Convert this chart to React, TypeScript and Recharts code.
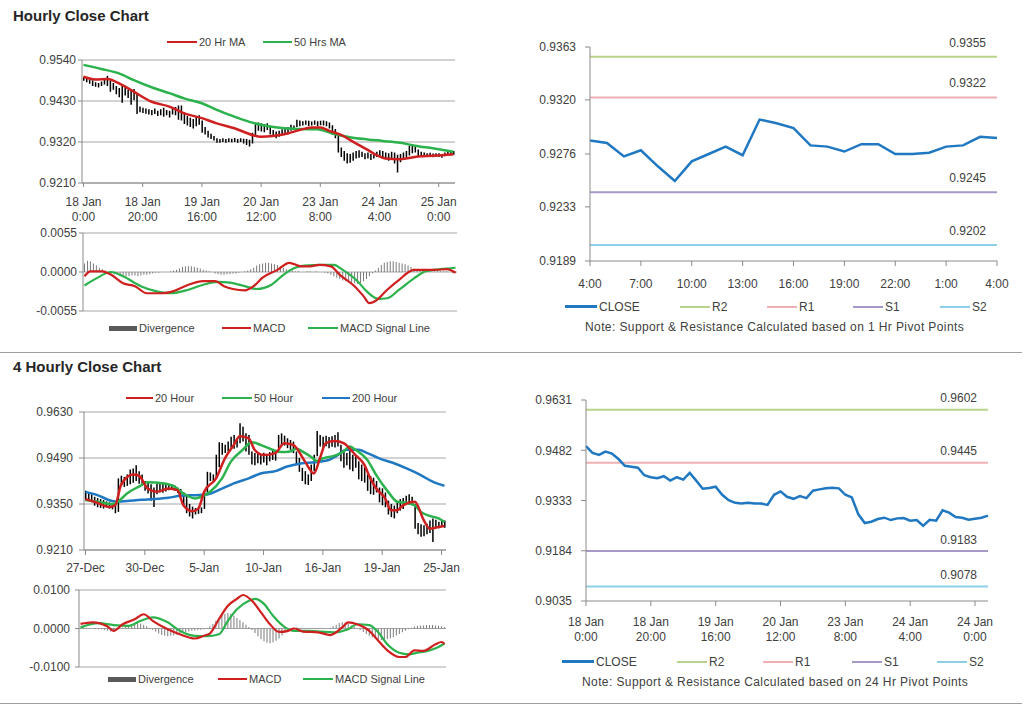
import React from 'react';
import { ComposedChart, LineChart, Line, Bar, XAxis, YAxis, CartesianGrid, ReferenceLine } from 'recharts';

// ---- Hourly close chart (18 Jan 0:00 onward, one bar per hour) ----
const hourlyHigh = [
  0.9495, 0.9492, 0.9488, 0.9486, 0.948, 0.9478, 0.9482, 0.949, 0.9498, 0.9486,
  0.9478, 0.947, 0.9465, 0.947, 0.9468, 0.946, 0.9458, 0.9462, 0.945, 0.9415,
  0.9412, 0.941, 0.9408, 0.9406, 0.941, 0.9404, 0.9408, 0.9412, 0.9406, 0.9404,
  0.941, 0.9414, 0.9418, 0.9418, 0.94, 0.939, 0.9385, 0.9382, 0.9388, 0.9392,
  0.9378, 0.936, 0.935, 0.9342, 0.9336, 0.933, 0.9328, 0.933, 0.9328, 0.933,
  0.9329, 0.9331, 0.9328, 0.933, 0.9329, 0.9328, 0.9326, 0.9345, 0.9368, 0.9372,
  0.937, 0.9368, 0.937, 0.936, 0.9352, 0.9348, 0.935, 0.9354, 0.9356, 0.936,
  0.9366, 0.9364, 0.938, 0.9378, 0.9376, 0.9378, 0.9377, 0.9375, 0.9378, 0.9376,
  0.9377, 0.9378, 0.9376, 0.9372, 0.9365, 0.9355, 0.934, 0.9305, 0.9296, 0.929,
  0.9288, 0.9292, 0.9296, 0.9298, 0.9294, 0.929, 0.9292, 0.9288, 0.929, 0.9294,
  0.9298, 0.9296, 0.9292, 0.929, 0.9294, 0.9292, 0.9286, 0.9288, 0.9292, 0.9296,
  0.931, 0.9314, 0.931, 0.93, 0.9294, 0.9292, 0.929, 0.9291, 0.9289, 0.929,
  0.929, 0.9288, 0.9292, 0.9296, 0.9294, 0.9296,
];
const hourlyLow = [
  0.9484, 0.948, 0.9476, 0.947, 0.9468, 0.9466, 0.947, 0.9474, 0.947, 0.9455,
  0.946, 0.9448, 0.944, 0.9425, 0.9445, 0.9438, 0.942, 0.9432, 0.9395, 0.94,
  0.9398, 0.9396, 0.9394, 0.9392, 0.9395, 0.939, 0.9392, 0.9388, 0.9392, 0.9386,
  0.9394, 0.9392, 0.938, 0.9378, 0.9368, 0.9364, 0.936, 0.9356, 0.9362, 0.9366,
  0.9345, 0.934, 0.9332, 0.9328, 0.9324, 0.9318, 0.9318, 0.932, 0.9318, 0.932,
  0.9319, 0.932, 0.9318, 0.932, 0.9316, 0.9312, 0.9308, 0.9316, 0.9334, 0.935,
  0.9348, 0.9346, 0.9352, 0.934, 0.9336, 0.933, 0.9334, 0.9338, 0.934, 0.9344,
  0.935, 0.9352, 0.936, 0.9362, 0.9364, 0.9366, 0.9363, 0.9364, 0.9366, 0.9362,
  0.9365, 0.9364, 0.9362, 0.9356, 0.934, 0.933, 0.9292, 0.928, 0.927, 0.9262,
  0.9264, 0.927, 0.9276, 0.9278, 0.928, 0.9274, 0.9276, 0.9272, 0.9276, 0.928,
  0.9282, 0.928, 0.9274, 0.927, 0.9276, 0.9262, 0.9238, 0.9266, 0.9272, 0.9278,
  0.9284, 0.929, 0.9292, 0.9282, 0.9284, 0.9282, 0.928, 0.9281, 0.9279, 0.928,
  0.928, 0.9278, 0.9282, 0.9284, 0.9284, 0.9286,
];
// [hour index, value]
const hrMa20: [number, number][] = [
  [0, 0.9495], [4, 0.9488], [8, 0.9489], [13, 0.9473], [17, 0.9455], [23, 0.9428], [29, 0.9415],
  [34, 0.9397], [40, 0.9384], [45, 0.937], [51, 0.9357], [57, 0.9339], [60, 0.9334], [64, 0.9336],
  [69, 0.9343], [73, 0.9352], [77, 0.9359], [80, 0.9359], [83, 0.935], [87, 0.9339], [91, 0.9321],
  [96, 0.9299], [99, 0.9285], [102, 0.9276], [107, 0.9274], [113, 0.9281], [118, 0.9283], [125, 0.9287],
];
const hrMa50: [number, number][] = [
  [0, 0.9527], [6, 0.9516], [12, 0.9504], [17, 0.9486], [23, 0.9467], [29, 0.9451], [34, 0.9437],
  [40, 0.9424], [45, 0.9406], [51, 0.9388], [57, 0.9372], [62, 0.9363], [68, 0.9357], [73, 0.9355],
  [79, 0.9354], [84, 0.9343], [90, 0.9333], [96, 0.9327], [101, 0.9323], [107, 0.9318], [112, 0.931],
  [118, 0.9303], [125, 0.9294],
];
const hrTickIdx = [0, 20, 40, 60, 80, 100, 120];
const hrTickLabels = [
  ['18 Jan', '0:00'], ['18 Jan', '20:00'], ['19 Jan', '16:00'], ['20 Jan', '12:00'],
  ['23 Jan', '8:00'], ['24 Jan', '4:00'], ['25 Jan', '0:00'],
];
const hrDivergence = [
  0.0012, 0.0016, 0.0015, 0.0012, 0.0009, 0.0006, 0.0004, 0.0002, 0, -0.0002,
  -0.0003, -0.0004, -0.0005, -0.0005, -0.0006, -0.0006, -0.0005, -0.0005, -0.0006, -0.0005,
  -0.0004, -0.0004, -0.0003, -0.0002, -0.0001, -0.0001, 0, 0, 0, 0.0001,
  0.0002, 0.0003, 0.0005, 0.0007, 0.0008, 0.0008, 0.0008, 0.0007, 0.0006, 0.0005,
  0.0003, 0.0002, 0.0001, 0, -0.0002, -0.0003, -0.0004, -0.0004, -0.0003, -0.0003,
  -0.0002, -0.0002, -0.0001, 0, 0.0001, 0.0002, 0.0004, 0.0006, 0.0009, 0.0011,
  0.0012, 0.0013, 0.0013, 0.0012, 0.0011, 0.001, 0.0008, 0.0006, 0.0004, 0.0003,
  0.0002, 0.0001, 0.0001, 0, 0, 0.0001, 0.0001, 0, 0.0001, 0,
  0, -0.0001, -0.0002, -0.0004, -0.0006, -0.0008, -0.001, -0.0012, -0.0013, -0.0014,
  -0.0015, -0.0016, -0.0017, -0.0016, -0.0013, -0.001, -0.0006, -0.0002, 0.0002, 0.0006,
  0.001, 0.0013, 0.0014, 0.0015, 0.0015, 0.0014, 0.0013, 0.0012, 0.0011, 0.0009,
  0.0007, 0.0005, 0.0004, 0.0003, 0.0002, 0.0002, 0.0001, 0.0001, 0.0001, 0.0001,
  0.0001, 0.0001, 0.0001, 0, -0.0001, -0.0001,
];
const hrMacd: [number, number][] = [
  [0, -0.0006], [2, 0.0001], [6, 0.0001], [9, -0.0004], [13, -0.0016], [17, -0.002], [21, -0.003],
  [26, -0.003], [30, -0.0027], [35, -0.0018], [40, -0.0013], [44, -0.0013], [47, -0.002], [50, -0.0024],
  [54, -0.0026], [57, -0.002], [60, -0.0008], [65, 0.0003], [69, 0.0013], [73, 0.0008], [76, 0.0008],
  [79, 0.001], [83, 0.0008], [86, -0.0004], [91, -0.002], [94, -0.0034], [96, -0.0044], [98, -0.0041],
  [102, -0.0025], [106, -0.0011], [111, 0.0003], [114, 0.0003], [118, 0.0003], [122, 0.0004], [125, -0.0001],
];
const hrSignal: [number, number][] = [
  [0, -0.0019], [4, -0.0009], [9, 0], [13, -0.0006], [19, -0.002], [24, -0.0027], [29, -0.003],
  [35, -0.0025], [40, -0.0018], [45, -0.0014], [49, -0.0015], [54, -0.002], [58, -0.0024], [63, -0.0018],
  [67, -0.0004], [71, 0.0006], [74, 0.0009], [80, 0.001], [84, 0.001], [87, 0.0003], [92, -0.0013],
  [95, -0.0027], [99, -0.0038], [102, -0.0037], [106, -0.0025], [111, -0.0009], [115, 0.0001],
  [120, 0.0004], [125, 0.0006],
];

// ---- Hourly close vs 1 Hr pivots ----
const hourLabels = [
  '4:00', '5:00', '6:00', '7:00', '8:00', '9:00', '10:00', '11:00', '12:00', '13:00', '14:00', '15:00',
  '16:00', '17:00', '18:00', '19:00', '20:00', '21:00', '22:00', '23:00', '0:00', '1:00', '2:00', '3:00', '4:00',
];
const close1h = [
  0.9287, 0.9285, 0.9274, 0.9279, 0.9266, 0.9254, 0.927, 0.9276, 0.9282, 0.9275, 0.9304, 0.9301,
  0.9297, 0.9283, 0.9282, 0.9278, 0.9284, 0.9284, 0.9276, 0.9276, 0.9277, 0.9282, 0.9283, 0.929, 0.9289,
];
const pivotNames = ['R2', 'R1', 'S1', 'S2'];
const pivot1h = [0.9355, 0.9322, 0.9245, 0.9202];

// ---- 4 hourly close chart ----
const h4High = [
  0.939, 0.9386, 0.938, 0.9372, 0.9368, 0.9365, 0.9362, 0.9358, 0.9355, 0.9352,
  0.935, 0.9428, 0.9436, 0.9432, 0.944, 0.9455, 0.9458, 0.9468, 0.945, 0.944,
  0.942, 0.9418, 0.941, 0.94, 0.9412, 0.9415, 0.9412, 0.941, 0.9408, 0.941,
  0.9406, 0.94, 0.9396, 0.9386, 0.9375, 0.935, 0.9342, 0.9338, 0.9336, 0.934,
  0.939, 0.9448, 0.9446, 0.944, 0.95, 0.9538, 0.9536, 0.953, 0.954, 0.9555,
  0.956, 0.9548, 0.9596, 0.9585, 0.9565, 0.956, 0.951, 0.9505, 0.9508, 0.9502,
  0.9506, 0.95, 0.9508, 0.9512, 0.9505, 0.956, 0.9565, 0.9558, 0.955, 0.9545,
  0.954, 0.951, 0.949, 0.946, 0.945, 0.944, 0.947, 0.95, 0.9572, 0.956,
  0.9555, 0.9558, 0.9554, 0.9556, 0.956, 0.9568, 0.953, 0.9515, 0.9505, 0.9512,
  0.95, 0.9495, 0.948, 0.947, 0.9462, 0.944, 0.9435, 0.943, 0.942, 0.94,
  0.9398, 0.9385, 0.936, 0.935, 0.9345, 0.9355, 0.9365, 0.9368, 0.9375, 0.938,
  0.9372, 0.935, 0.9292, 0.9288, 0.9285, 0.929, 0.93, 0.9306, 0.9302, 0.9296,
  0.9298, 0.93,
];
const h4Low = [
  0.936, 0.9362, 0.9355, 0.9345, 0.934, 0.9338, 0.9336, 0.934, 0.9336, 0.9334,
  0.9322, 0.9326, 0.9405, 0.9402, 0.9405, 0.941, 0.9415, 0.942, 0.9412, 0.9405,
  0.939, 0.9382, 0.936, 0.9341, 0.938, 0.9385, 0.9384, 0.9388, 0.9392, 0.9394,
  0.939, 0.9384, 0.9378, 0.9345, 0.9322, 0.9312, 0.9306, 0.9318, 0.932, 0.9322,
  0.9335, 0.9377, 0.942, 0.9418, 0.943, 0.9462, 0.95, 0.9505, 0.951, 0.952,
  0.9518, 0.9522, 0.9535, 0.954, 0.951, 0.95, 0.947, 0.9468, 0.9474, 0.947,
  0.9476, 0.9468, 0.948, 0.9484, 0.9482, 0.952, 0.953, 0.9528, 0.952, 0.9515,
  0.9505, 0.947, 0.9448, 0.942, 0.941, 0.9408, 0.942, 0.945, 0.9495, 0.9525,
  0.9522, 0.9526, 0.952, 0.9524, 0.9522, 0.9525, 0.948, 0.946, 0.9468, 0.9455,
  0.945, 0.946, 0.9425, 0.942, 0.9415, 0.939, 0.938, 0.9378, 0.9385, 0.9355,
  0.9346, 0.934, 0.9318, 0.931, 0.9306, 0.9322, 0.933, 0.9335, 0.935, 0.9348,
  0.9346, 0.9275, 0.9258, 0.925, 0.9252, 0.9258, 0.9262, 0.9234, 0.9278, 0.9276,
  0.928, 0.9278,
];
const h4Ma20: [number, number][] = [
  [0, 0.9365], [3, 0.9357], [8, 0.9341], [10, 0.9346], [12, 0.9408], [16, 0.944], [18, 0.9436],
  [21, 0.9397], [24, 0.9387], [28, 0.9397], [31, 0.9392], [33, 0.9346], [36, 0.9328], [38, 0.9336],
  [40, 0.9387], [44, 0.9428], [47, 0.9489], [50, 0.953], [52, 0.9556], [55, 0.955], [57, 0.9515],
  [60, 0.9499], [64, 0.9505], [67, 0.9535], [70, 0.953], [74, 0.9479], [77, 0.9443], [79, 0.9489],
  [81, 0.9535], [84, 0.9542], [87, 0.9535], [91, 0.9499], [94, 0.9469], [96, 0.9428], [98, 0.9397],
  [101, 0.9367], [103, 0.9331], [105, 0.9331], [107, 0.9346], [111, 0.9357], [114, 0.9301],
  [116, 0.9275], [119, 0.928], [121, 0.9283],
];
const h4Ma50: [number, number][] = [
  [0, 0.9362], [4, 0.9357], [9, 0.935], [11, 0.9357], [14, 0.9382], [18, 0.9403], [21, 0.9416],
  [26, 0.9413], [30, 0.9403], [33, 0.9382], [37, 0.9367], [39, 0.9372], [42, 0.9387], [46, 0.9428],
  [49, 0.9479], [53, 0.9515], [56, 0.9538], [59, 0.953], [63, 0.9515], [66, 0.9508], [69, 0.951],
  [71, 0.9518], [74, 0.9505], [76, 0.9494], [78, 0.9481], [80, 0.9489], [84, 0.9497], [87, 0.951],
  [89, 0.9525], [91, 0.9515], [95, 0.9484], [98, 0.9438], [102, 0.9387], [105, 0.9357], [109, 0.9352],
  [111, 0.9346], [113, 0.9326], [116, 0.9314], [119, 0.9306], [121, 0.9295],
];
const h4Ma200: [number, number][] = [
  [0, 0.9387], [4, 0.9377], [9, 0.9359], [11, 0.9357], [14, 0.9359], [19, 0.9363], [23, 0.9365],
  [28, 0.9369], [32, 0.9375], [37, 0.9377], [41, 0.9379], [46, 0.9397], [50, 0.9413], [55, 0.9428],
  [59, 0.9443], [64, 0.945], [68, 0.9464], [73, 0.9474], [77, 0.9477], [82, 0.9484], [85, 0.9499],
  [88, 0.9515], [92, 0.9515], [95, 0.9505], [99, 0.9489], [104, 0.9474], [108, 0.9459], [113, 0.9438],
  [117, 0.9418], [121, 0.9405],
];
const h4TickIdx = [0, 20, 40, 60, 80, 100, 120];
const h4TickLabels = [['27-Dec'], ['30-Dec'], ['5-Jan'], ['10-Jan'], ['16-Jan'], ['19-Jan'], ['25-Jan']];
const h4Divergence = [
  0.0002, 0.0003, 0.0002, 0.0001, 0, -0.0001, -0.0002, -0.0002, -0.0004, -0.0006,
  -0.0008, -0.0007, -0.0004, -0.0001, 0.0002, 0.0005, 0.0008, 0.0011, 0.0013, 0.0014,
  0.0013, 0.001, 0.0006, 0.0002, -0.0003, -0.0008, -0.0013, -0.0017, -0.0019, -0.002,
  -0.0019, -0.0018, -0.0016, -0.0014, -0.0011, -0.0009, -0.0008, -0.0006, -0.0005, -0.0004,
  -0.0003, -0.0002, 0.0001, 0.0006, 0.0012, 0.002, 0.0028, 0.0034, 0.0038, 0.004,
  0.0038, 0.0033, 0.0027, 0.0022, 0.0016, 0.001, 0.0004, -0.0004, -0.0012, -0.002,
  -0.0028, -0.0033, -0.0037, -0.0038, -0.0036, -0.0032, -0.0026, -0.0018, -0.001, -0.0004,
  0, 0.0002, 0.0003, 0.0002, 0.0001, 0, -0.0001, -0.0001, -0.0002, -0.0002,
  -0.0001, -0.0001, 0, 0.0002, 0.0006, 0.001, 0.0014, 0.0016, 0.0015, 0.0012,
  0.0008, 0.0004, 0, -0.0004, -0.0009, -0.0014, -0.0019, -0.0023, -0.0026, -0.0028,
  -0.003, -0.0029, -0.0027, -0.0025, -0.0022, -0.0018, -0.0014, -0.001, -0.0006, -0.0002,
  0.0002, 0.0005, 0.0007, 0.0008, 0.0008, 0.0009, 0.0009, 0.0009, 0.0008, 0.0007,
  0.0005, 0.0003,
];
const h4Macd: [number, number][] = [
  [0, 0.0012], [4, 0.0016], [9, 0.0005], [11, -0.0006], [14, 0.0011], [18, 0.0024], [21, 0.0037],
  [24, 0.002], [29, -0.0002], [33, -0.0015], [38, -0.0026], [41, -0.0019], [43, -0.0013], [46, 0.0024],
  [49, 0.0059], [52, 0.0077], [54, 0.0087], [57, 0.0072], [60, 0.0042], [63, 0.0011], [66, -0.0009],
  [69, -0.0006], [71, 0], [74, -0.0008], [79, -0.001], [83, -0.0017], [87, 0.0003], [89, 0.0016],
  [92, 0.0011], [96, -0.0006], [99, -0.0032], [102, -0.0057], [106, -0.0074], [108, -0.0074],
  [111, -0.0057], [114, -0.0058], [118, -0.0041], [120, -0.0035], [121, -0.004],
];
const h4Signal: [number, number][] = [
  [0, 0.0003], [6, 0.0014], [11, 0.0009], [16, 0.0007], [20, 0.002], [24, 0.0029], [29, 0.0016],
  [33, -0.0006], [38, -0.0019], [42, -0.002], [46, -0.0015], [49, 0.002], [52, 0.005], [56, 0.0072],
  [58, 0.0077], [61, 0.0064], [64, 0.0033], [68, 0.0003], [71, -0.0006], [76, -0.0006], [80, -0.0008],
  [84, -0.001], [89, -0.0002], [92, 0.0011], [96, 0.0009], [99, -0.001], [102, -0.0041], [106, -0.0063],
  [109, -0.0067], [112, -0.0063], [116, -0.0057], [119, -0.0048], [121, -0.0039],
];

// ---- Hourly close vs 24 Hr pivots (one point per 2 hours) ----
const close24h = [
  0.9494, 0.9474, 0.9468, 0.9478, 0.9472, 0.9456, 0.9436, 0.9433, 0.943, 0.9408,
  0.9402, 0.9399, 0.9405, 0.9392, 0.9402, 0.9395, 0.9415, 0.9392, 0.9368, 0.937,
  0.9374, 0.935, 0.9334, 0.9326, 0.9324, 0.9326, 0.9324, 0.9324, 0.932, 0.935,
  0.936, 0.9344, 0.9338, 0.9346, 0.934, 0.9362, 0.9366, 0.9369, 0.9371, 0.9369,
  0.935, 0.9342, 0.9292, 0.9266, 0.927, 0.9278, 0.9282, 0.9275, 0.928, 0.9281,
  0.9273, 0.9275, 0.9258, 0.9276, 0.9273, 0.9304, 0.9297, 0.9284, 0.9282, 0.9276,
  0.9279, 0.9282, 0.9288,
];
const c24TickIdx = [0, 10, 20, 30, 40, 50, 60];
const c24TickLabels = [
  ['18 Jan', '0:00'], ['18 Jan', '20:00'], ['19 Jan', '16:00'], ['20 Jan', '12:00'],
  ['23 Jan', '8:00'], ['24 Jan', '4:00'], ['24 Jan', '0:00'],
];
const pivot24h = [0.9602, 0.9445, 0.9183, 0.9078];

// ---- styling ----
const FONT = 'Arial, "Liberation Sans", sans-serif';
const TXT = '#404040';
const AXIS = '#8a8a8a';
const GRID = '#a6a6a6';
const RED = '#cf1f1f';
const GREEN = '#2bb24c';
const BLUE = '#1f78c1';
const DIV_GRAY = '#7a7a7a';
const PIVOT_COLORS = ['#b9d38a', '#eeb0b2', '#a898c8', '#8ccfe6'];

type Row = { i: number; [k: string]: any };

function addSparse(rows: Row[], key: string, pts: [number, number][]) {
  pts.forEach(([i, v]) => {
    rows[i][key] = v;
  });
}

const hrRows: Row[] = hourlyHigh.map((h, i) => ({ i, range: [hourlyLow[i], h] }));
addSparse(hrRows, 'ma20', hrMa20);
addSparse(hrRows, 'ma50', hrMa50);

const hrMacdRows: Row[] = hrDivergence.map((d, i) => ({ i, div: d }));
addSparse(hrMacdRows, 'macd', hrMacd);
addSparse(hrMacdRows, 'signal', hrSignal);

const h4Rows: Row[] = h4High.map((h, i) => ({ i, range: [h4Low[i], h] }));
addSparse(h4Rows, 'ma20', h4Ma20);
addSparse(h4Rows, 'ma50', h4Ma50);
addSparse(h4Rows, 'ma200', h4Ma200);

const h4MacdRows: Row[] = h4Divergence.map((d, i) => ({ i, div: d }));
addSparse(h4MacdRows, 'macd', h4Macd);
addSparse(h4MacdRows, 'signal', h4Signal);

const c1Rows: Row[] = close1h.map((v, i) => ({ i, close: v }));
const c24Rows: Row[] = close24h.map((v, i) => ({ i, close: v }));

const fmt4 = (v: number) => v.toFixed(4);
const yTick = { fontSize: 12, fill: TXT, fontFamily: FONT };

function lookupTick(idx: number[], labels: string[][], dys: number[]) {
  return (props: any) => {
    const { x, y, payload } = props;
    const k = idx.indexOf(payload.value);
    if (k < 0) return <g />;
    return (
      <text x={x} y={y} textAnchor="middle" fill={TXT} fontSize={12} fontFamily={FONT}>
        {labels[k].map((s, j) => (
          <tspan key={j} x={x} dy={dys[j]}>
            {s}
          </tspan>
        ))}
      </text>
    );
  };
}

const PivotLabel = (props: any) => {
  const { viewBox, text, lift } = props;
  if (!viewBox) return null;
  return (
    <text
      x={viewBox.x + viewBox.width - 11}
      y={viewBox.y - lift}
      dy="0.35em"
      textAnchor="end"
      fontSize={12}
      fill={TXT}
      fontFamily={FONT}
    >
      {text}
    </text>
  );
};

type LegendItem = { left: number; width: number; thick: number; color: string; label: string };

const LegendRow = ({ top, items, size }: { top: number; items: LegendItem[]; size: number }) => (
  <>
    {items.map((it) => (
      <div
        key={it.label}
        style={{
          position: 'absolute',
          left: it.left,
          top: top - 8,
          height: 16,
          display: 'flex',
          alignItems: 'center',
          fontSize: size,
          color: TXT,
          whiteSpace: 'nowrap',
        }}
      >
        <span style={{ display: 'inline-block', width: it.width, height: it.thick, background: it.color, marginRight: 2 }} />
        {it.label}
      </div>
    ))}
  </>
);

const Title = ({ top, text }: { top: number; text: string }) => (
  <div style={{ position: 'absolute', left: 13, top, fontSize: 15, fontWeight: 'bold', color: '#262626' }}>{text}</div>
);

const Divider = ({ top }: { top: number }) => (
  <div style={{ position: 'absolute', left: 0, top, width: 1022, height: 1, background: '#a0a0a0' }} />
);

const Note = ({ left, top, text }: { left: number; top: number; text: string }) => (
  <div style={{ position: 'absolute', left, top: top - 8, fontSize: 12, color: TXT, letterSpacing: 0.4, whiteSpace: 'nowrap' }}>
    {text}
  </div>
);

const macdLegend = (left: number[]): LegendItem[] => [
  { left: left[0], width: 28, thick: 5, color: '#5a5a5a', label: 'Divergence' },
  { left: left[1], width: 29, thick: 2, color: RED, label: 'MACD' },
  { left: left[2], width: 30, thick: 2, color: GREEN, label: 'MACD Signal Line' },
];

const pivotLegend = (left: number[]): LegendItem[] => [
  { left: left[0], width: 32, thick: 2.5, color: BLUE, label: 'CLOSE' },
  ...pivotNames.map((n, k) => ({ left: left[k + 1], width: 30, thick: 2, color: PIVOT_COLORS[k], label: n })),
];

export default function App() {
  return (
    <div
      style={{
        position: 'absolute',
        left: 0,
        top: 0,
        width: 1024,
        height: 706,
        background: '#fff',
        fontFamily: FONT,
        overflow: 'hidden',
      }}
    >
      <Title top={7} text="Hourly Close Chart" />
      <Title top={358} text="4 Hourly Close Chart" />
      <Divider top={352} />
      <Divider top={703} />

      {/* Hourly price with moving averages */}
      <LegendRow
        top={42}
        size={11}
        items={[
          { left: 167, width: 30, thick: 2, color: RED, label: '20 Hr MA' },
          { left: 263, width: 29, thick: 2, color: GREEN, label: '50 Hrs MA' },
        ]}
      />
      <div style={{ position: 'absolute', left: 0, top: 50 }}>
        <ComposedChart width={460} height={175} data={hrRows} margin={{ top: 10, right: 5, bottom: 0, left: 0 }}>
          <CartesianGrid vertical={false} stroke={GRID} />
          <XAxis
            dataKey="i"
            height={42}
            interval={19}
            tickSize={4}
            tickMargin={0}
            axisLine={{ stroke: AXIS }}
            tickLine={{ stroke: AXIS }}
            tick={lookupTick(hrTickIdx, hrTickLabels, [19, 15])}
          />
          <YAxis
            width={82}
            domain={[0.921, 0.954]}
            ticks={[0.921, 0.932, 0.943, 0.954]}
            interval={0}
            tickFormatter={fmt4}
            tickSize={4}
            tickMargin={2}
            axisLine={{ stroke: AXIS }}
            tickLine={{ stroke: AXIS }}
            tick={yTick}
            allowDataOverflow
          />
          <Bar dataKey="range" barSize={1.5} fill="#000" isAnimationActive={false} />
          <Line dataKey="ma50" type="monotone" stroke={GREEN} strokeWidth={2.5} dot={false} connectNulls isAnimationActive={false} />
          <Line dataKey="ma20" type="monotone" stroke={RED} strokeWidth={2.5} dot={false} connectNulls isAnimationActive={false} />
        </ComposedChart>
      </div>

      {/* Hourly MACD */}
      <div style={{ position: 'absolute', left: 0, top: 223 }}>
        <ComposedChart width={460} height={98} data={hrMacdRows} margin={{ top: 10, right: 3, bottom: 10, left: 0 }}>
          <CartesianGrid vertical={false} stroke={GRID} />
          <XAxis dataKey="i" hide />
          <YAxis
            width={83}
            domain={[-0.0055, 0.0055]}
            ticks={[-0.0055, 0, 0.0055]}
            interval={0}
            tickFormatter={fmt4}
            tickSize={4}
            tickMargin={2}
            axisLine={{ stroke: AXIS }}
            tickLine={{ stroke: AXIS }}
            tick={yTick}
            allowDataOverflow
          />
          <Bar dataKey="div" barSize={1} fill={DIV_GRAY} isAnimationActive={false} />
          <Line dataKey="signal" type="monotone" stroke={GREEN} strokeWidth={2.2} dot={false} connectNulls isAnimationActive={false} />
          <Line dataKey="macd" type="monotone" stroke={RED} strokeWidth={2.2} dot={false} connectNulls isAnimationActive={false} />
        </ComposedChart>
      </div>
      <LegendRow top={328} size={11} items={macdLegend([109, 222, 308])} />

      {/* Hourly close vs 1 Hr pivots */}
      <div style={{ position: 'absolute', left: 500, top: 37 }}>
        <LineChart width={524} height={254} data={c1Rows} margin={{ top: 10, right: 27, bottom: 0, left: 0 }}>
          <XAxis
            dataKey="i"
            height={30}
            interval={2}
            tickSize={5}
            tickMargin={0}
            axisLine={{ stroke: AXIS }}
            tickLine={{ stroke: AXIS }}
            tick={(p: any) => (
              <text x={p.x} y={p.y} dy={22} textAnchor="middle" fill={TXT} fontSize={12} fontFamily={FONT}>
                {hourLabels[p.payload.value]}
              </text>
            )}
          />
          <YAxis
            width={90}
            domain={[0.9189, 0.9363]}
            ticks={[0.9189, 0.9233, 0.9276, 0.932, 0.9363]}
            interval={0}
            tickFormatter={fmt4}
            tickSize={5}
            tickMargin={9}
            axisLine={{ stroke: AXIS }}
            tickLine={{ stroke: AXIS }}
            tick={yTick}
            allowDataOverflow
          />
          {pivot1h.map((v, k) => (
            <ReferenceLine
              key={pivotNames[k]}
              y={v}
              stroke={PIVOT_COLORS[k]}
              strokeWidth={2}
              label={<PivotLabel text={fmt4(v)} lift={14.5} />}
            />
          ))}
          <Line dataKey="close" stroke={BLUE} strokeWidth={2.5} dot={false} isAnimationActive={false} />
        </LineChart>
      </div>
      <LegendRow top={306.5} size={12} items={pivotLegend([565, 680, 767, 853, 940])} />
      <Note left={585} top={327.5} text="Note: Support & Resistance Calculated based on 1 Hr Pivot Points" />

      {/* 4 hourly price with moving averages */}
      <LegendRow
        top={398}
        size={11}
        items={[
          { left: 126, width: 27, thick: 2, color: RED, label: '20 Hour' },
          { left: 222, width: 30, thick: 2, color: GREEN, label: '50 Hour' },
          { left: 322, width: 28, thick: 2, color: BLUE, label: '200 Hour' },
        ]}
      />
      <div style={{ position: 'absolute', left: 0, top: 402 }}>
        <ComposedChart width={460} height={178} data={h4Rows} margin={{ top: 10, right: 14, bottom: 0, left: 0 }}>
          <CartesianGrid vertical={false} stroke={GRID} />
          <XAxis
            dataKey="i"
            height={30}
            interval={19}
            tickSize={5}
            tickMargin={0}
            axisLine={{ stroke: AXIS }}
            tickLine={{ stroke: AXIS }}
            tick={lookupTick(h4TickIdx, h4TickLabels, [16.5])}
          />
          <YAxis
            width={84}
            domain={[0.921, 0.963]}
            ticks={[0.921, 0.935, 0.949, 0.963]}
            interval={0}
            tickFormatter={fmt4}
            tickSize={5}
            tickMargin={6}
            axisLine={{ stroke: AXIS }}
            tickLine={{ stroke: AXIS }}
            tick={yTick}
            allowDataOverflow
          />
          <Bar dataKey="range" barSize={1.5} fill="#000" isAnimationActive={false} />
          <Line dataKey="ma200" type="monotone" stroke={BLUE} strokeWidth={2.5} dot={false} connectNulls isAnimationActive={false} />
          <Line dataKey="ma50" type="monotone" stroke={GREEN} strokeWidth={2.5} dot={false} connectNulls isAnimationActive={false} />
          <Line dataKey="ma20" type="monotone" stroke={RED} strokeWidth={2.5} dot={false} connectNulls isAnimationActive={false} />
        </ComposedChart>
      </div>

      {/* 4 hourly MACD */}
      <div style={{ position: 'absolute', left: 0, top: 580 }}>
        <ComposedChart width={460} height={97} data={h4MacdRows} margin={{ top: 10, right: 14, bottom: 10, left: 0 }}>
          <CartesianGrid vertical={false} stroke={GRID} />
          <XAxis dataKey="i" hide />
          <YAxis
            width={79}
            domain={[-0.01, 0.01]}
            ticks={[-0.01, 0, 0.01]}
            interval={0}
            tickFormatter={fmt4}
            tickSize={4}
            tickMargin={5}
            axisLine={{ stroke: AXIS }}
            tickLine={{ stroke: AXIS }}
            tick={yTick}
            allowDataOverflow
          />
          <Bar dataKey="div" barSize={1} fill={DIV_GRAY} isAnimationActive={false} />
          <Line dataKey="signal" type="monotone" stroke={GREEN} strokeWidth={2.2} dot={false} connectNulls isAnimationActive={false} />
          <Line dataKey="macd" type="monotone" stroke={RED} strokeWidth={2.2} dot={false} connectNulls isAnimationActive={false} />
        </ComposedChart>
      </div>
      <LegendRow top={679} size={11} items={macdLegend([108, 218, 303])} />

      {/* Hourly close vs 24 Hr pivots */}
      <div style={{ position: 'absolute', left: 500, top: 390 }}>
        <LineChart width={524} height={255} data={c24Rows} margin={{ top: 10, right: 36, bottom: 0, left: 0 }}>
          <XAxis
            dataKey="i"
            height={44}
            interval={9}
            tickSize={5}
            tickMargin={0}
            axisLine={{ stroke: AXIS }}
            tickLine={{ stroke: AXIS }}
            tick={lookupTick(c24TickIdx, c24TickLabels, [20, 15])}
          />
          <YAxis
            width={86}
            domain={[0.9035, 0.9631]}
            ticks={[0.9035, 0.9184, 0.9333, 0.9482, 0.9631]}
            interval={0}
            tickFormatter={fmt4}
            tickSize={5}
            tickMargin={9}
            axisLine={{ stroke: AXIS }}
            tickLine={{ stroke: AXIS }}
            tick={yTick}
            allowDataOverflow
          />
          {pivot24h.map((v, k) => (
            <ReferenceLine
              key={pivotNames[k]}
              y={v}
              stroke={PIVOT_COLORS[k]}
              strokeWidth={2}
              label={<PivotLabel text={fmt4(v)} lift={11.5} />}
            />
          ))}
          <Line dataKey="close" stroke={BLUE} strokeWidth={2.5} dot={false} isAnimationActive={false} />
        </LineChart>
      </div>
      <LegendRow top={661.5} size={12} items={pivotLegend([562, 677, 763, 852, 937])} />
      <Note left={582} top={683.3} text="Note: Support & Resistance Calculated based on 24 Hr Pivot Points" />
    </div>
  );
}
